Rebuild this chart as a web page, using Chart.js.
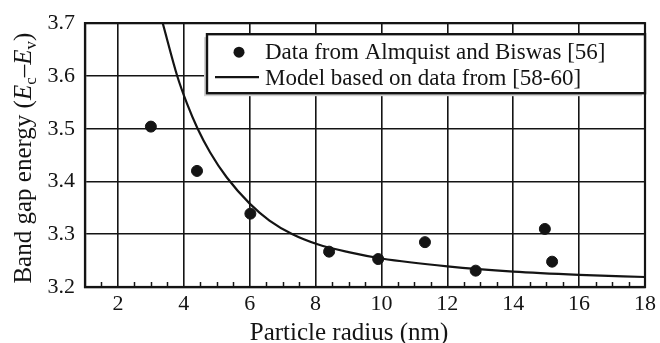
<!DOCTYPE html>
<html>
<head>
<meta charset="utf-8">
<script src="https://cdn.jsdelivr.net/npm/chart.js@4/dist/chart.umd.min.js"></script>
<style>
  html, body { margin: 0; padding: 0; background: #fff; }
  #wrap { width: 660px; height: 343px; }
</style>
</head>
<body>
<div id="wrap"><canvas id="c" width="660" height="343"></canvas></div>
<script>
// Measured band gaps (Almquist and Biswas)
const radiusData = [3.0, 4.4, 6.02, 8.41, 9.9, 11.32, 12.86, 14.96, 15.18];
const gapData    = [3.504, 3.42, 3.339, 3.267, 3.253, 3.285, 3.231, 3.310, 3.248];

// Model curve samples
const modelRadius = [3.36, 3.80, 4.10, 4.42, 4.80, 5.30, 6.00, 6.60, 7.30, 8.06, 9.00, 10.0, 12.0, 14.0, 16.0, 18.0];
const modelGap    = [3.700, 3.600, 3.547, 3.500, 3.455, 3.408, 3.358, 3.326, 3.300, 3.281, 3.266, 3.254, 3.239, 3.229, 3.223, 3.219];

// Axis ticks
const xTickLabels = [2, 4, 6, 8, 10, 12, 14, 16, 18];
const yTickLabels = [3.2, 3.3, 3.4, 3.5, 3.6, 3.7];

const seriesLabels = ['Data from Almquist and Biswas [56]', 'Model based on data from [58-60]'];
const xTitle = 'Particle radius (nm)';

const ink = '#141414';
const serif = '"Liberation Serif", "Times New Roman", serif';

const pointsDataset = radiusData.map((r, i) => ({ x: r, y: gapData[i] }));
const modelDataset = modelRadius.map((r, i) => ({ x: r, y: modelGap[i] }));

const decor = {
  id: 'decor',
  beforeDatasetsDraw(chart) {
    const { ctx, chartArea: a, scales: { x } } = chart;
    ctx.save();
    // short inward ticks every half unit along the bottom
    ctx.strokeStyle = ink;
    ctx.lineWidth = 1.5;
    for (let v = x.min + 0.5; v < x.max; v += 0.5) {
      if (xTickLabels.includes(v)) continue;
      const px = Math.round(x.getPixelForValue(v)) + 0.5;
      ctx.beginPath();
      ctx.moveTo(px, a.bottom);
      ctx.lineTo(px, a.bottom - 5);
      ctx.stroke();
    }
    // frame
    ctx.lineWidth = 2.2;
    ctx.strokeRect(a.left, a.top, a.right - a.left, a.bottom - a.top);
    ctx.restore();
  },
  afterDraw(chart) {
    const { ctx, chartArea: a } = chart;
    ctx.save();

    // legend box with soft shadow
    const bw = 438, bh = 59;
    const bx = a.right - bw, by = a.top + 11;
    ctx.fillStyle = '#d2d2d2';
    ctx.fillRect(bx - 3, by + 3, bw, bh);
    ctx.fillStyle = '#fff';
    ctx.fillRect(bx, by, bw, bh);
    ctx.strokeStyle = ink;
    ctx.lineWidth = 2.4;
    ctx.strokeRect(bx, by, bw, bh);

    ctx.fillStyle = ink;
    ctx.beginPath();
    ctx.arc(bx + 32, by + 18, 5.5, 0, Math.PI * 2);
    ctx.fill();
    ctx.lineWidth = 2.2;
    ctx.beginPath();
    ctx.moveTo(bx + 8, by + 43);
    ctx.lineTo(bx + 52, by + 43);
    ctx.stroke();

    ctx.font = '23px ' + serif;
    ctx.textBaseline = 'alphabetic';
    ctx.textAlign = 'left';
    ctx.fillText(chart.data.datasets[0].label, bx + 58, by + 25);
    ctx.fillText(chart.data.datasets[1].label, bx + 58, by + 51);

    // x-axis title
    ctx.font = '25px ' + serif;
    ctx.textAlign = 'center';
    ctx.fillText(xTitle, 349, 340);

    // y-axis title with italic symbols and subscripts
    const base = '25px ' + serif;
    const ital = 'italic 25px ' + serif;
    const sub = '17px ' + serif;
    const parts = [
      { t: 'Band gap energy (', f: base, dy: 0 },
      { t: 'E', f: ital, dy: 0 },
      { t: 'c', f: sub, dy: 5 },
      { t: '\u2013', f: base, dy: 0 },
      { t: 'E', f: ital, dy: 0 },
      { t: 'v', f: sub, dy: 5 },
      { t: ')', f: base, dy: 0 }
    ];
    let total = 0;
    parts.forEach(p => { ctx.font = p.f; p.w = ctx.measureText(p.t).width; total += p.w; });
    const cy = (a.top + a.bottom) / 2 + 3;
    ctx.translate(31, cy);
    ctx.rotate(-Math.PI / 2);
    ctx.textAlign = 'left';
    let px = -total / 2;
    parts.forEach(p => {
      ctx.font = p.f;
      ctx.fillText(p.t, px, p.dy);
      px += p.w;
    });
    ctx.restore();
  }
};

new Chart(document.getElementById('c'), {
  type: 'scatter',
  data: {
    datasets: [
      {
        label: seriesLabels[0],
        data: pointsDataset,
        backgroundColor: ink,
        borderColor: ink,
        pointRadius: 5.5,
        pointHoverRadius: 5.5,
        order: 1
      },
      {
        label: seriesLabels[1],
        data: modelDataset,
        showLine: true,
        borderColor: ink,
        borderWidth: 2.2,
        pointRadius: 0,
        cubicInterpolationMode: 'monotone',
        fill: false,
        order: 2
      }
    ]
  },
  options: {
    responsive: false,
    animation: false,
    devicePixelRatio: 1,
    layout: { padding: { top: 21, right: 12, left: 0, bottom: 0 } },
    plugins: { legend: { display: false }, tooltip: { enabled: false } },
    scales: {
      x: {
        type: 'linear',
        min: 1,
        max: 18,
        afterBuildTicks: s => { s.ticks = xTickLabels.map(v => ({ value: v })); },
        afterFit: s => { s.height = 56; },
        grid: { color: ink, lineWidth: 1.6, drawTicks: false },
        border: { color: ink, width: 2.2 },
        ticks: {
          color: ink,
          padding: 4,
          font: { family: serif, size: 22 },
          callback: v => String(v),
          autoSkip: false,
          maxRotation: 0
        }
      },
      y: {
        type: 'linear',
        min: 3.2,
        max: 3.7,
        afterBuildTicks: s => { s.ticks = yTickLabels.map(v => ({ value: v })); },
        afterFit: s => { s.width = 85; },
        grid: { color: ink, lineWidth: 1.6, drawTicks: false },
        border: { color: ink, width: 2.2 },
        ticks: {
          color: ink,
          padding: 10,
          font: { family: serif, size: 22 },
          callback: v => Number(v).toFixed(1)
        }
      }
    }
  },
  plugins: [decor]
});
</script>
</body>
</html>
